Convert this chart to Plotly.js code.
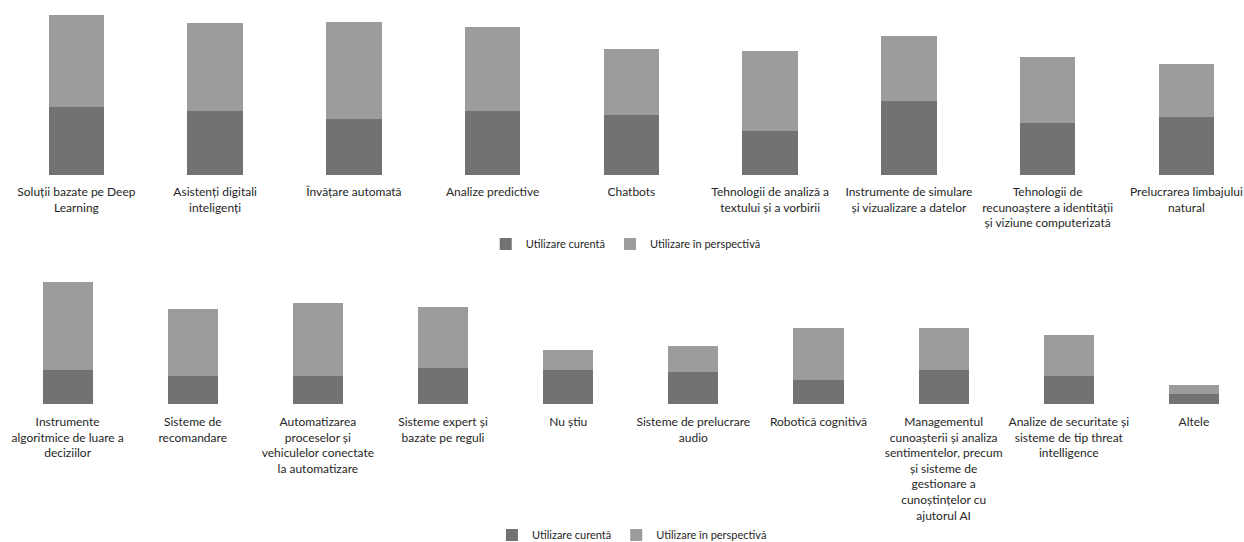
<!DOCTYPE html>
<html>
<head>
<meta charset="utf-8">
<script src="https://cdn.plot.ly/plotly-3.0.1.min.js"></script>
<style>html,body{margin:0;padding:0;background:#fff;}#chart{width:1244px;height:542px;}</style>
</head>
<body>
<div id="chart"></div>
<script>
// Top panel
const catsTop = [
  "Soluții bazate pe Deep<br>Learning",
  "Asistenți digitali<br>inteligenți",
  "Învățare automată",
  "Analize predictive",
  "Chatbots",
  "Tehnologii de analiză a<br>textului și a vorbirii",
  "Instrumente de simulare<br>și vizualizare a datelor",
  "Tehnologii de<br>recunoaștere a identității<br>și viziune computerizată",
  "Prelucrarea limbajului<br>natural"
];
const curentTop = [17, 16, 14, 16, 15, 11, 18.5, 13, 14.5];
const perspTop  = [23, 22, 24.25, 21, 16.5, 20, 16.25, 16.5, 13.25];

// Bottom panel
const catsBottom = [
  "Instrumente<br>algoritmice de luare a<br>deciziilor",
  "Sisteme de<br>recomandare",
  "Automatizarea<br>proceselor și<br>vehiculelor conectate<br>la automatizare",
  "Sisteme expert și<br>bazate pe reguli",
  "Nu știu",
  "Sisteme de prelucrare<br>audio",
  "Robotică cognitivă",
  "Managementul<br>cunoașterii și analiza<br>sentimentelor, precum<br>și sisteme de<br>gestionare a<br>cunoștințelor cu<br>ajutorul AI",
  "Analize de securitate și<br>sisteme de tip threat<br>intelligence",
  "Altele"
];
const curentBottom = [8.5, 7, 7, 9, 8.5, 8, 6, 8.5, 7, 2.5];
const perspBottom  = [22, 16.75, 18.25, 15.25, 5, 6.5, 13, 10.5, 10.25, 2.25];

const seriesNames = ["Utilizare curentă", "Utilizare în perspectivă"];
const colCur = "#727272", colPer = "#9c9c9c";
const textCol = "#262626";
const fontFam = "Lato, 'Open Sans', sans-serif";

const traces = [
  {type:"bar", x:catsTop, y:curentTop, name:seriesNames[0], marker:{color:colCur}, width:0.4, xaxis:"x", yaxis:"y", legend:"legend"},
  {type:"bar", x:catsTop, y:perspTop, name:seriesNames[1], marker:{color:colPer}, width:0.4, xaxis:"x", yaxis:"y", legend:"legend"},
  {type:"bar", x:catsBottom, y:curentBottom, name:seriesNames[0], marker:{color:colCur}, width:0.4, xaxis:"x2", yaxis:"y2", legend:"legend2"},
  {type:"bar", x:catsBottom, y:perspBottom, name:seriesNames[1], marker:{color:colPer}, width:0.4, xaxis:"x2", yaxis:"y2", legend:"legend2"}
];

const H = 542;
const py = p => 1 - p / H;

const axX = {
  type:"category", showgrid:false, zeroline:false, showline:false, ticks:"",
  tickfont:{family:fontFam, size:12, color:textCol}, tickangle:0, fixedrange:true, automargin:false
};
const axY = {visible:false, showgrid:false, zeroline:false, fixedrange:true};

const layout = {
  width:1244, height:542,
  margin:{l:0, r:0, t:0, b:0, autoexpand:false},
  paper_bgcolor:"#fff", plot_bgcolor:"#fff",
  barmode:"stack",
  font:{family:fontFam, color:textCol},
  xaxis:Object.assign({}, axX, {domain:[7/1244, 1], range:[-0.5, 8.415], anchor:"y", ticklabelstandoff:8}),
  yaxis:Object.assign({}, axY, {domain:[py(175), py(10)], range:[0, 41.25], anchor:"x"}),
  xaxis2:Object.assign({}, axX, {domain:[5/1244, 1], range:[-0.5, 9.40], anchor:"y2", ticklabelstandoff:9}),
  yaxis2:Object.assign({}, axY, {domain:[py(404), py(270)], range:[0, 33.5], anchor:"x2"}),
  showlegend:true,
  legend:{orientation:"h", x:0.503, xanchor:"center", y:py(244), yanchor:"middle",
    font:{family:fontFam, size:11, color:textCol}, traceorder:"normal", itemwidth:30},
  legend2:{orientation:"h", x:0.508, xanchor:"center", y:py(535), yanchor:"middle",
    font:{family:fontFam, size:11, color:textCol}, traceorder:"normal", itemwidth:30}
};

Plotly.newPlot("chart", traces, layout, {displayModeBar:false, staticPlot:true});
</script>
</body>
</html>
